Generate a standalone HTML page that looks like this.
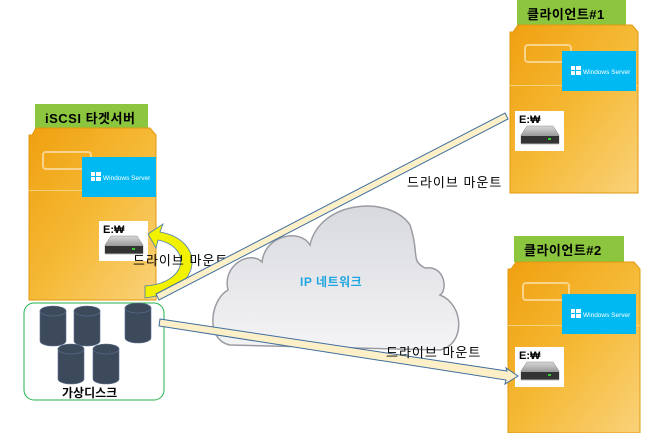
<!DOCTYPE html>
<html><head><meta charset="utf-8"><style>
body{margin:0;background:#fff;width:666px;height:433px;overflow:hidden}
text{font-family:"Liberation Sans","Noto Sans CJK KR",sans-serif}
</style></head><body>
<svg width="666" height="433" viewBox="0 0 666 433" xmlns="http://www.w3.org/2000/svg">
<defs>
<linearGradient id="srv" x1="0" y1="0" x2="1" y2="1">
<stop offset="0" stop-color="#f0a010"/><stop offset="0.5" stop-color="#f5b935"/><stop offset="1" stop-color="#fad27a"/></linearGradient>
<linearGradient id="cld" x1="0" y1="0" x2="0" y2="1">
<stop offset="0" stop-color="#d8d9de"/><stop offset="1" stop-color="#f4f4f6"/></linearGradient>
<linearGradient id="drv" x1="0" y1="0" x2="0" y2="1"><stop offset="0" stop-color="#d8d8d8"/><stop offset="1" stop-color="#666"/></linearGradient>
<g id="drive"><rect width="49" height="40" fill="#fff"/><text x="4" y="12" font-size="11" font-weight="bold">E:₩</text>
<path d="M6 24 L12 15 H38 L44 24 V33 H6Z" fill="url(#drv)" stroke="#888" stroke-width="0.5"/><rect x="6" y="25" width="38" height="7" fill="#333"/><rect x="33" y="27" width="3" height="2" fill="#3c3"/></g>
<g id="win"><rect width="74" height="40" fill="#00b9f2"/><g fill="#fff"><rect x="9" y="15" width="4" height="4"/><rect x="14" y="15" width="5" height="4"/><rect x="9" y="20" width="4" height="4"/><rect x="14" y="20" width="5" height="4"/></g><text x="21" y="23" font-size="6.5" fill="#fff">Windows Server</text></g>
<g id="cyl"><path d="M0 5 V35 A13 5 0 0 0 26 35 V5Z" fill="#3d4a5c" stroke="#5a7090" stroke-width="0.6"/><ellipse cx="13" cy="5" rx="13" ry="5" fill="#3d4a5c" stroke="#5a7090" stroke-width="0.6"/></g>
</defs>
<rect x="35" y="104" width="113" height="26" fill="#8cc63f"/>
<text x="45" y="123" font-size="13" font-weight="bold" letter-spacing="0.5">iSCSI 타겟서버</text>
<path d="M32 135 L36 128 H150 L156 135 V300 H29 V135Z" fill="url(#srv)" stroke="#e09810"/>
<rect x="29" y="190" width="127" height="1" fill="#f9d27a"/>
<rect x="43" y="152" width="48" height="17" rx="3" fill="none" stroke="#f9d48c" stroke-width="2"/>
<use href="#win" x="82" y="157"/>
<use href="#drive" x="99" y="221"/>
<rect x="517" y="0" width="109" height="26" fill="#8cc63f"/>
<text x="527" y="19" font-size="13" font-weight="bold" letter-spacing="0.5">클라이언트#1</text>
<path d="M513 32 L518 25 H632 L638 32 V193 H510 V32Z" fill="url(#srv)" stroke="#e09810"/>
<rect x="510" y="85" width="128" height="1" fill="#f9d27a"/>
<rect x="525" y="45" width="46" height="17" rx="3" fill="none" stroke="#f9d48c" stroke-width="2"/>
<use href="#win" x="562" y="51"/>
<use href="#drive" x="515" y="111"/>
<rect x="514" y="236" width="110" height="26" fill="#8cc63f"/>
<text x="524" y="255" font-size="13" font-weight="bold" letter-spacing="0.5">클라이언트#2</text>
<path d="M511 269 L516 262 H634 L640 269 V433 H508 V269Z" fill="url(#srv)" stroke="#e09810"/>
<rect x="508" y="325" width="132" height="1" fill="#f9d27a"/>
<rect x="523" y="283" width="46" height="17" rx="3" fill="none" stroke="#f9d48c" stroke-width="2"/>
<use href="#win" x="562" y="294"/>
<use href="#drive" x="515" y="347"/>
<path d="M230 345 C205 340 210 300 228 290 C222 265 250 250 262 262 C265 235 300 228 310 245 C320 200 390 195 410 225 C420 255 410 260 425 268 C445 265 448 290 440 295 C465 305 465 345 440 350 Z" fill="url(#cld)" stroke="#9a9ca2" stroke-width="1.5"/>
<text x="300" y="286" font-size="12" font-weight="bold" fill="#1fa5e0" letter-spacing="0.5">IP 네트워크</text>
<rect x="24" y="303" width="140" height="97" rx="10" fill="#fff" stroke="#21b24b"/>
<use href="#cyl" x="40" y="306"/><use href="#cyl" x="74" y="306"/><use href="#cyl" x="125" y="303"/>
<use href="#cyl" x="58" y="344"/><use href="#cyl" x="93" y="344"/>
<text x="62" y="397" font-size="12" font-weight="bold">가상디스크</text>
<path d="M145 298 C205 290 205 240 160 232 L163 224 L148 234 L156 248 L158 240 C192 247 188 283 145 286Z" fill="#f2f200" stroke="#4a7eb0" stroke-width="0.8"/>
<text x="133" y="265" font-size="13" letter-spacing="1">드라이브 마운트</text>
<path d="M156 294 L505 113 L508 119 L159 300Z" fill="#fdf0c8" stroke="#3e6e9e" stroke-width="1"/>
<path d="M160 319 L507 371 L506 368 L518 376 L505 384 L506 380 L159 326Z" fill="#fdf0c8" stroke="#3e6e9e" stroke-width="1"/>
<text x="407" y="187" font-size="13" letter-spacing="1">드라이브 마운트</text>
<text x="386" y="357" font-size="13" letter-spacing="1">드라이브 마운트</text>
</svg>
</body></html>
